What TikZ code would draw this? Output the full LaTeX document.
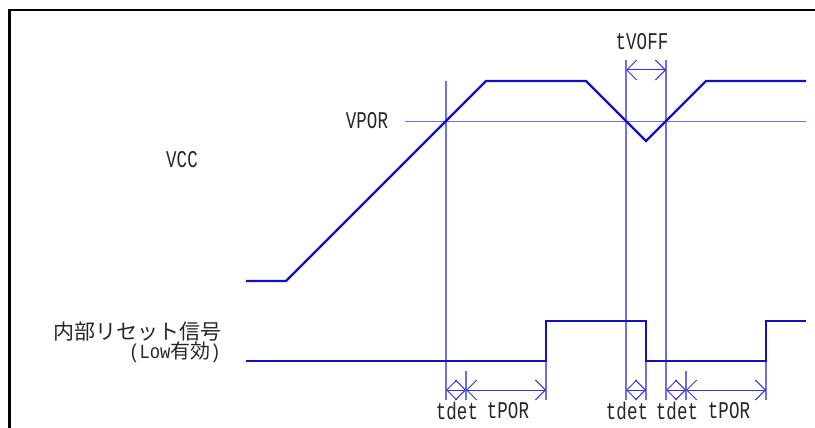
\documentclass[tikz,border=0pt]{standalone}
\usepackage{fontspec}
\setmainfont{Liberation Mono}[FakeStretch=0.73]
\newfontfamily\latb{Liberation Mono}[FakeStretch=0.86]
\newfontfamily\cjk{Noto Sans CJK JP}
\usetikzlibrary{arrows.meta}
\definecolor{wave}{RGB}{16,16,200}
\definecolor{guide}{RGB}{112,112,224}
\definecolor{dimc}{RGB}{50,50,230}
\tikzset{
  waveline/.style={draw=wave,line width=2.2pt,line join=miter},
  guideline/.style={draw=guide,line width=1.1pt},
  dimline/.style={draw=dimc,line width=1pt,{Straight Barb[length=10pt,width=20pt]}-{Straight Barb[length=10pt,width=20pt]}},
  lbl/.style={inner sep=0pt,font=\fontsize{24}{24}\selectfont,text=black!85},
  jp/.style={inner sep=0pt,font=\fontsize{21}{22}\selectfont\cjk,text=black!85},
  jpb/.style={inner sep=0pt,font=\fontsize{20}{20}\selectfont\latb,text=black!85}
}
\begin{document}
\begin{tikzpicture}[x=1pt,y=-1pt]
\useasboundingbox (0,0) rectangle (815,428);
% frame
\draw[line width=2.5pt] (815,10) -- (9.5,10) -- (9.5,428);
% coordinates
\coordinate (v0) at (246,281); \coordinate (v1) at (286,281);
\coordinate (v2) at (486,81);  \coordinate (v3) at (586,81);
\coordinate (v4) at (646,141); \coordinate (v5) at (706,81);
\coordinate (v6) at (806,81);
\coordinate (p0) at (405,121); \coordinate (p1) at (806,121);
\coordinate (r0) at (246,361); \coordinate (r1) at (546,361);
\coordinate (r2) at (546,321); \coordinate (r3) at (646,321);
\coordinate (r4) at (646,361); \coordinate (r5) at (766,361);
\coordinate (r6) at (766,321); \coordinate (r7) at (806,321);
% guide tops / bottoms
\coordinate (ga) at (446,81);  \coordinate (gab) at (446,400);
\coordinate (gb) at (626,60);  \coordinate (gbb) at (626,400);
\coordinate (gc) at (666,60);  \coordinate (gcb) at (666,400);
\coordinate (gd) at (466,371); \coordinate (gdb) at (466,400);
\coordinate (ge) at (686,371); \coordinate (geb) at (686,400);
\coordinate (gf) at (546,361); \coordinate (gfb) at (546,400);
\coordinate (gg) at (646,361); \coordinate (ggb) at (646,400);
\coordinate (gh) at (766,361); \coordinate (ghb) at (766,400);
% dimension points
\coordinate (d1) at (446,390); \coordinate (d2) at (466,390);
\coordinate (d3) at (546,390); \coordinate (d4) at (626,390);
\coordinate (d5) at (646,390); \coordinate (d6) at (666,390);
\coordinate (d7) at (686,390); \coordinate (d8) at (766,390);
\coordinate (t1) at (626,70);  \coordinate (t2) at (666,70);
% VPOR threshold
\draw[guideline,line width=0.9pt] (p0) -- (p1);
% guides
\foreach \a/\b in {ga/gab,gb/gbb,gc/gcb,gd/gdb,ge/geb,gf/gfb,gg/ggb,gh/ghb}
  \draw[guideline] (\a) -- (\b);
% waveforms
\draw[waveline] (v0) -- (v1) -- (v2) -- (v3) -- (v4) -- (v5) -- (v6);
\draw[waveline] (r0) -- (r1) -- (r2) -- (r3) -- (r4) -- (r5) -- (r6) -- (r7);
% dimensions
\draw[dimline] (d1) -- (d2);
\draw[dimline] (d2) -- (d3);
\draw[dimline] (d4) -- (d5);
\draw[dimline] (d6) -- (d7);
\draw[dimline] (d7) -- (d8);
\draw[dimline] (t1) -- (t2);
% labels
\node[lbl] (tvoff) at (642,42) {tVOFF};
\node[lbl] (vpor) at (367,121) {VPOR};
\node[lbl] (vcc) at (182,160) {VCC};
\node[lbl] (td1) at (457,411) {tdet};
\node[lbl] (tp1) at (508,411) {tPOR};
\node[lbl] (td2) at (627,411) {tdet};
\node[lbl] (td3) at (677,411) {tdet};
\node[lbl] (tp2) at (729,411) {tPOR};
\node[jp,anchor=base east] (rst1) at (222,339.3) {内部リセット信号};
\node[jpb,anchor=base east] (rst2) at (221,358.6) {(Low{\cjk\fontsize{20}{20}\selectfont 有効})};
\end{tikzpicture}
\end{document}
